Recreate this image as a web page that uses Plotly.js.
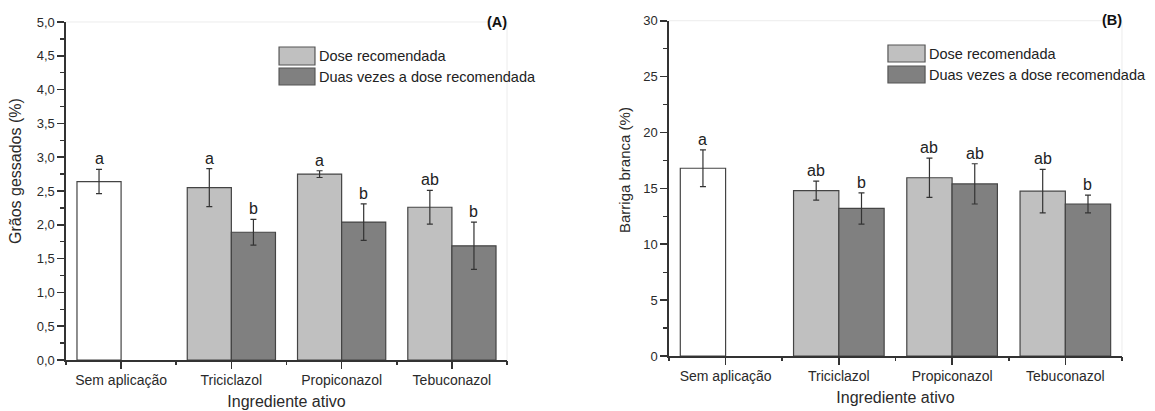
<!DOCTYPE html>
<html>
<head>
<meta charset="utf-8">
<script src="https://cdn.plot.ly/plotly-3.0.1.min.js"></script>
<style>html,body{margin:0;padding:0;background:#fff;}#chart{width:1155px;height:411px;}</style>
</head>
<body>
<div id="chart"></div>
<script>
// ---- data ----
const categories = ['Sem aplicação', 'Triciclazol', 'Propiconazol', 'Tebuconazol'];
const controlCategory = ['Sem aplicação'];
const fungicides = ['Triciclazol', 'Propiconazol', 'Tebuconazol'];
const seriesNames = ['Dose recomendada', 'Duas vezes a dose recomendada'];

// (A) Grãos gessados (%)
const gessControl = [2.64];
const gessControlErr = [0.18];
const gessControlLetters = ['a'];
const gessDose = [2.55, 2.75, 2.26];
const gessDoseErr = [0.28, 0.05, 0.25];
const gessDoseLetters = ['a', 'a', 'ab'];
const gessDouble = [1.89, 2.04, 1.69];
const gessDoubleErr = [0.19, 0.27, 0.35];
const gessDoubleLetters = ['b', 'b', 'b'];

// (B) Barriga branca (%)
const barrControl = [16.8];
const barrControlErr = [1.65];
const barrControlLetters = ['a'];
const barrDose = [14.8, 15.95, 14.75];
const barrDoseErr = [0.85, 1.75, 1.95];
const barrDoseLetters = ['ab', 'ab', 'ab'];
const barrDouble = [13.2, 15.4, 13.6];
const barrDoubleErr = [1.4, 1.8, 0.8];
const barrDoubleLetters = ['b', 'ab', 'b'];

// ---- styling ----
const FONT = 'Liberation Sans, Arial, sans-serif';
const AX = '#333333';
const LIGHT = '#c0c0c0';
const DARK = '#808080';
const EDGE = '#444444';
const TXT = '#2a2a2a';
const BW = 0.4;

function bar(x, y, err, fill, offset, xa, ya) {
  return {
    type: 'bar', x: x, y: y, xaxis: xa, yaxis: ya,
    width: BW, offset: offset,
    marker: {color: fill, line: {color: EDGE, width: 1.2}},
    error_y: {type: 'data', array: err, visible: true, color: AX, thickness: 1.2, width: 3},
    showlegend: false, hoverinfo: 'x+y'
  };
}

const data = [
  bar(controlCategory, gessControl, gessControlErr, '#ffffff', -BW, 'x', 'y'),
  bar(fungicides, gessDose, gessDoseErr, LIGHT, -BW, 'x', 'y'),
  bar(fungicides, gessDouble, gessDoubleErr, DARK, 0, 'x', 'y'),
  bar(controlCategory, barrControl, barrControlErr, '#ffffff', -BW, 'x2', 'y2'),
  bar(fungicides, barrDose, barrDoseErr, LIGHT, -BW, 'x2', 'y2'),
  bar(fungicides, barrDouble, barrDoubleErr, DARK, 0, 'x2', 'y2'),
  // invisible traces to give the boundary-tick axes their categories
  {type: 'scatter', mode: 'none', x: categories, y: categories.map(() => 0), xaxis: 'x3', yaxis: 'y', showlegend: false, hoverinfo: 'skip'},
  {type: 'scatter', mode: 'none', x: categories, y: categories.map(() => 0), xaxis: 'x4', yaxis: 'y2', showlegend: false, hoverinfo: 'skip'}
];

// letter annotations above error bars
const annotations = [];
function letters(cats, vals, errs, labs, shift, xr, yr) {
  cats.forEach((c, i) => {
    annotations.push({
      x: categories.indexOf(c) + shift, y: vals[i] + errs[i], xref: xr, yref: yr,
      text: labs[i], showarrow: false, yanchor: 'bottom', yshift: 0,
      font: {family: FONT, size: 16, color: '#222'}
    });
  });
}
letters(controlCategory, gessControl, gessControlErr, gessControlLetters, -BW / 2, 'x', 'y');
letters(fungicides, gessDose, gessDoseErr, gessDoseLetters, -BW / 2, 'x', 'y');
letters(fungicides, gessDouble, gessDoubleErr, gessDoubleLetters, BW / 2, 'x', 'y');
letters(controlCategory, barrControl, barrControlErr, barrControlLetters, -BW / 2, 'x2', 'y2');
letters(fungicides, barrDose, barrDoseErr, barrDoseLetters, -BW / 2, 'x2', 'y2');
letters(fungicides, barrDouble, barrDoubleErr, barrDoubleLetters, BW / 2, 'x2', 'y2');

// panel labels
annotations.push({xref: 'paper', yref: 'paper', x: 0.4303, y: 0.9465, text: '<b>(A)</b>', showarrow: false,
  xanchor: 'center', yanchor: 'middle', font: {family: FONT, size: 14.5, color: '#111'}});
annotations.push({xref: 'paper', yref: 'paper', x: 0.9628, y: 0.9513, text: '<b>(B)</b>', showarrow: false,
  xanchor: 'center', yanchor: 'middle', font: {family: FONT, size: 14.5, color: '#111'}});

// y-axis titles (placed as in the original, slightly above the axis centre)
annotations.push({xref: 'paper', yref: 'paper', x: 15 / 1155, y: 1 - 171 / 411, text: 'Grãos gessados (%)',
  textangle: -90, showarrow: false, xanchor: 'center', yanchor: 'middle', font: {family: FONT, size: 16, color: TXT}});
annotations.push({xref: 'paper', yref: 'paper', x: 625 / 1155, y: 1 - 170 / 411, text: 'Barriga branca (%)',
  textangle: -90, showarrow: false, xanchor: 'center', yanchor: 'middle', font: {family: FONT, size: 15, color: TXT}});

// custom legends (large swatches)
const shapes = [];
function legend(x0, x1, rows) {
  rows.forEach((r, i) => {
    shapes.push({type: 'rect', xref: 'paper', yref: 'paper', x0: x0, x1: x1, y0: r.y0, y1: r.y1,
      fillcolor: i === 0 ? LIGHT : DARK, line: {color: '#555', width: 1.2}});
    annotations.push({xref: 'paper', yref: 'paper', x: x1 + 0.002, y: (r.y0 + r.y1) / 2, text: seriesNames[i],
      showarrow: false, xanchor: 'left', yanchor: 'middle', font: {family: FONT, size: 14.5, color: '#222'}});
  });
}
legend(0.2416, 0.2727, [{y0: 0.8418, y1: 0.8856}, {y0: 0.7932, y1: 0.8345}]);
legend(0.7688, 0.8009, [{y0: 0.8491, y1: 0.8905}, {y0: 0.798, y1: 0.8394}]);

// faint top/right frame lines
[['x', 'y'], ['x2', 'y2']].forEach(([xa, ya]) => {
  shapes.push({type: 'line', xref: xa + ' domain', yref: ya + ' domain', x0: 0, x1: 1, y0: 1, y1: 1, line: {color: '#ececec', width: 1}});
  shapes.push({type: 'line', xref: xa + ' domain', yref: ya + ' domain', x0: 1, x1: 1, y0: 0, y1: 1, line: {color: '#ececec', width: 1}});
});

function xMain(domain, anchor) {
  return {
    domain: domain, anchor: anchor, type: 'category', categoryorder: 'array', categoryarray: categories,
    range: [-0.5, 3.5], showline: true, linecolor: AX, linewidth: 1.6, ticks: 'outside', ticklen: 7,
    tickcolor: AX, tickwidth: 1.6, showgrid: false, zeroline: false,
    tickfont: {family: FONT, size: 14, color: TXT},
    title: {text: 'Ingrediente ativo', font: {family: FONT, size: 16, color: TXT}, standoff: 8}
  };
}
function xBound(over, anchor, domain) {
  return {
    overlaying: over, anchor: anchor, domain: domain, type: 'category', categoryorder: 'array', categoryarray: categories,
    range: [-0.5, 3.5], tickson: 'boundaries', ticks: 'outside', ticklen: 4, tickcolor: AX, tickwidth: 1.6,
    showticklabels: false, showline: false, showgrid: false, zeroline: false
  };
}
function yAxis(domain, anchor, range, dtick, minor, fmt) {
  return {
    domain: domain, anchor: anchor, range: range, dtick: dtick, tick0: 0, tickformat: fmt,
    showline: true, linecolor: AX, linewidth: 1.6, ticks: 'outside', ticklen: 7, tickcolor: AX, tickwidth: 1.6,
    minor: {dtick: minor, ticks: 'outside', ticklen: 4, tickcolor: AX, tickwidth: 1.3, showgrid: false},
    showgrid: false, zeroline: false,
    tickfont: {family: FONT, size: 13, color: TXT}
  };
}

const layout = {
  width: 1155, height: 411,
  margin: {l: 0, r: 0, t: 0, b: 0},
  paper_bgcolor: '#ffffff', plot_bgcolor: '#ffffff',
  barmode: 'overlay', separators: ',.',
  showlegend: false,
  xaxis: xMain([0.0571, 0.4390], 'y'),
  yaxis: yAxis([0.1240, 0.9465], 'x', [0, 5], 0.5, 0.25, '.1f'),
  xaxis2: xMain([0.5792, 0.9714], 'y2'),
  yaxis2: yAxis([0.1338, 0.9496], 'x2', [0, 30], 5, 2.5, 'd'),
  xaxis3: xBound('x', 'y', [0.0571, 0.4390]),
  xaxis4: xBound('x2', 'y2', [0.5792, 0.9714]),
  annotations: annotations,
  shapes: shapes
};

Plotly.newPlot('chart', data, layout, {displayModeBar: false, staticPlot: true});
</script>
</body>
</html>
